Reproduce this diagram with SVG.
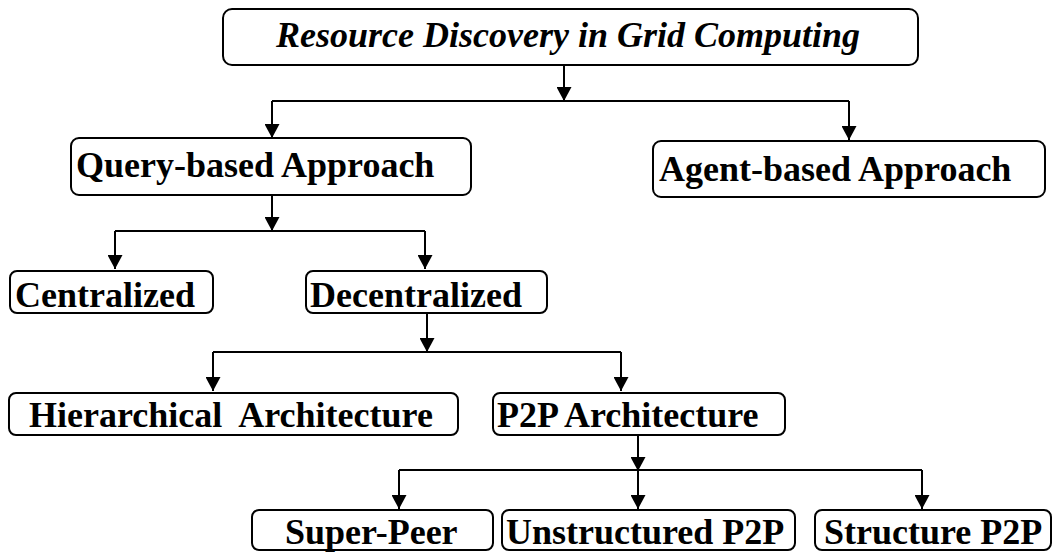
<svg xmlns="http://www.w3.org/2000/svg" width="1053" height="552" viewBox="0 0 1053 552">
<style>
.box{fill:#fff;stroke:#000;stroke-width:2}
.t{font-family:"Liberation Serif","Times New Roman",serif;font-weight:bold;font-size:36px;fill:#000}
.ti{font-style:italic}
.c{fill:none;stroke:#000;stroke-width:2}
</style>
<defs>
<marker id="arr" markerUnits="userSpaceOnUse" markerWidth="15" markerHeight="15" refX="14" refY="7.5" orient="auto" viewBox="0 0 15 15">
<path d="M0,0 L14,7.5 L0,15 Z" fill="#000"/>
</marker>
</defs>
<g id="connectors">
<path class="c" d="M564,65 V101" marker-end="url(#arr)"/>
<path class="c" d="M272,101 H849"/>
<path class="c" d="M272,101 V138" marker-end="url(#arr)"/>
<path class="c" d="M849,101 V140" marker-end="url(#arr)"/>
<path class="c" d="M272,195 V231" marker-end="url(#arr)"/>
<path class="c" d="M115,231 H425"/>
<path class="c" d="M115,231 V269" marker-end="url(#arr)"/>
<path class="c" d="M425,231 V269" marker-end="url(#arr)"/>
<path class="c" d="M427,313 V352" marker-end="url(#arr)"/>
<path class="c" d="M213,352 H621"/>
<path class="c" d="M213,352 V391" marker-end="url(#arr)"/>
<path class="c" d="M621,352 V391" marker-end="url(#arr)"/>
<path class="c" d="M638,435 V471" marker-end="url(#arr)"/>
<path class="c" d="M399,470 H922"/>
<path class="c" d="M399,470 V509" marker-end="url(#arr)"/>
<path class="c" d="M638,470 V509" marker-end="url(#arr)"/>
<path class="c" d="M922,470 V509" marker-end="url(#arr)"/>
</g>
<g id="root">
<rect class="box" x="223" y="9" width="695" height="56" rx="9"/>
<text class="t ti" x="276" y="47">Resource Discovery in Grid Computing</text>
</g>
<g id="query">
<rect class="box" x="71" y="138" width="400" height="57" rx="8"/>
<text class="t" x="76" y="177">Query-based Approach</text>
</g>
<g id="agent">
<rect class="box" x="653" y="141" width="392" height="56" rx="8"/>
<text class="t" x="659" y="181">Agent-based Approach</text>
</g>
<g id="centralized">
<rect class="box" x="10" y="271" width="203" height="42" rx="7"/>
<text class="t" x="15" y="307">Centralized</text>
</g>
<g id="decentralized">
<rect class="box" x="306" y="271" width="241" height="42" rx="7"/>
<text class="t" x="310" y="307">Decentralized</text>
</g>
<g id="hierarchical">
<rect class="box" x="9" y="393" width="449" height="42" rx="7"/>
<text class="t" x="29" y="427" xml:space="preserve">Hierarchical  Architecture</text>
</g>
<g id="p2p">
<rect class="box" x="493" y="393" width="292" height="42" rx="7"/>
<text class="t" x="497" y="427">P2P Architecture</text>
</g>
<g id="superpeer">
<rect class="box" x="252" y="510" width="241" height="40" rx="7"/>
<text class="t" x="285" y="544">Super-Peer</text>
</g>
<g id="unstructured">
<rect class="box" x="502" y="510" width="293" height="40" rx="7"/>
<text class="t" x="506" y="544">Unstructured P2P</text>
</g>
<g id="structure">
<rect class="box" x="815" y="510" width="236" height="40" rx="7"/>
<text class="t" x="824" y="544">Structure P2P</text>
</g>
</svg>
